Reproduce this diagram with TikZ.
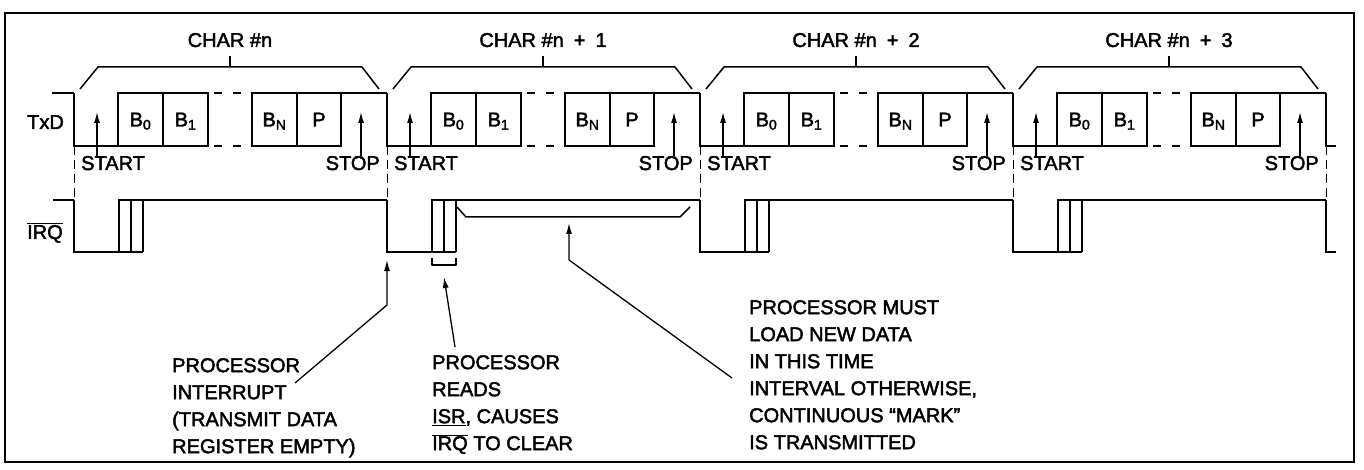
\documentclass[tikz,border=0pt]{standalone}
\usepackage{fontspec}
\setmainfont{Liberation Sans}[BoldFont=Liberation Sans, BoldFeatures={FakeBold=2.2}]
\usetikzlibrary{arrows.meta}
\newcommand{\ovl}[1]{$\overline{\hbox{#1}}$}
\begin{document}
\begin{tikzpicture}[x=1pt,y=-1pt,
  sig/.style={line width=2pt, line join=miter},
  brc/.style={line width=1.5pt, line join=round},
  guide/.style={line width=0.8pt, dash pattern=on 9pt off 5pt},
  ptr/.style={line width=1.3pt, -{Latex[length=11pt,width=6pt]}},
  lbl/.style={font=\fontsize{20}{27}\selectfont\bfseries, inner sep=0pt},
  note/.style={lbl, align=left, anchor=north west},
  frame/.style={line width=1.5pt}]
\def\hi{93}\def\lo{146}\def\ihi{200}\def\ilo{252}
\useasboundingbox (0,0) rectangle (1364,470);
\draw[frame] (5,13) rectangle (1354,462);
% signal labels
\node[lbl,anchor=base west] (txd) at (27,129) {TxD};
\node[lbl,anchor=base west] (irq) at (27,239) {\ovl{IRQ}};
% leading levels
\draw[sig] (52,\hi) -- (74,\hi);
\draw[sig] (53,\ihi) -- (74,\ihi);
\foreach \k in {0,...,3}{
  \pgfmathsetmacro\s{74+313*\k}
  % TxD waveform
  \draw[sig] (\s,\hi) -- (\s,\lo) -- (\s+134,\lo);
  \draw[sig] (\s+44,\lo) rectangle (\s+89,\hi);
  \draw[sig] (\s+89,\lo) rectangle (\s+134,\hi);
  \draw[sig] (\s+178,\lo) rectangle (\s+223,\hi);
  \draw[sig] (\s+223,\lo) rectangle (\s+267,\hi);
  \draw[sig] (\s+267,\hi) -- (\s+313,\hi);
  \draw[sig] (\s+140,\hi) -- (\s+148,\hi) (\s+159,\hi) -- (\s+167,\hi);
  \draw[sig] (\s+140,\lo) -- (\s+148,\lo) (\s+159,\lo) -- (\s+167,\lo);
  \node[lbl,anchor=base] (bz\k) at (\s+66.5,126.5) {B\textsubscript{0}};
  \node[lbl,anchor=base] (bo\k) at (\s+111.5,126.5) {B\textsubscript{1}};
  \node[lbl,anchor=base] (bn\k) at (\s+200.5,126.5) {B\textsubscript{N}};
  \node[lbl,anchor=base] (pp\k) at (\s+245,126.5) {P};
  % START / STOP
  \node[lbl,anchor=base west] (start\k) at (\s+7,170) {START};
  \node[lbl,anchor=base east] (stop\k) at (\s+306,170) {STOP};
  \coordinate (sa\k) at (\s+23,112);
  \coordinate (pa\k) at (\s+287,112);
  \draw[ptr] (start\k.north -| sa\k) -- (sa\k);
  \draw[ptr] (stop\k.north -| pa\k) -- (pa\k);
  % brace
  \draw[brc] (\s+6,89) -- (\s+24,67) -- (\s+288,67) -- (\s+305,89);
  \coordinate (tk\k) at (\s+156,67);
  \draw[brc] (tk\k) -- ++(0,-11);
  % guide
  \draw[guide] (\s,\lo) -- (\s,\ihi);
  % IRQ waveform
  \draw[sig] (\s,\ihi) -- (\s,\ilo) -- (\s+69,\ilo);
  \draw[sig] (\s+45,\ilo) -- (\s+45,\ihi) -- (\s+313,\ihi);
  \draw[sig] (\s+57,\ilo) -- (\s+57,\ihi);
  \draw[sig] (\s+69,\ilo) -- (\s+69,\ihi);
}
% trailing levels
\draw[sig] (1326,\hi) -- (1326,\lo) -- (1336,\lo);
\draw[guide] (1326,\lo) -- (1326,\ihi);
\draw[sig] (1326,\ihi) -- (1326,\ilo) -- (1336,\ilo);
% character labels
\node[lbl,anchor=base] (c0) at (230,47) {CHAR \#n};
\foreach \k in {1,2,3}{
  \pgfmathsetmacro\s{74+313*\k}
  \node[lbl,anchor=base] (c\k) at (\s+156,47) {CHAR \#n\hspace{.5em}+\hspace{.5em}\k};
}
% annotation brackets
\draw[brc] (432,258) -- (432,265) -- (456,265) -- (456,258);
\draw[brc] (457,207) -- (466,217) -- (680,217) -- (690,207);
% annotation texts
\node[note] (t1) at (172,358) {PROCESSOR\\INTERRUPT\\(TRANSMIT DATA\\REGISTER EMPTY)};
\node[note] (t2) at (432,355) {PROCESSOR\\READS\\\underline{ISR}, CAUSES\\\ovl{IRQ} TO CLEAR};
\node[note] (t3) at (749,300) {PROCESSOR MUST\\LOAD NEW DATA\\IN THIS TIME\\INTERVAL OTHERWISE,\\CONTINUOUS ``MARK''\\IS TRANSMITTED};
% annotation arrows
\coordinate (a1tail) at (295,383);
\coordinate (a1knee) at (387,305);
\coordinate (a1tip) at (387,260);
\draw[ptr] (a1tail) -- (a1knee) -- (a1tip);
\coordinate (a2tail) at (455,347);
\coordinate (a2tip) at (444,277);
\draw[ptr] (a2tail) -- (a2tip);
\coordinate (a3tail) at (732,378);
\coordinate (a3knee) at (569,260);
\coordinate (a3tip) at (569,223);
\draw[ptr] (a3tail) -- (a3knee) -- (a3tip);
\end{tikzpicture}
\end{document}
